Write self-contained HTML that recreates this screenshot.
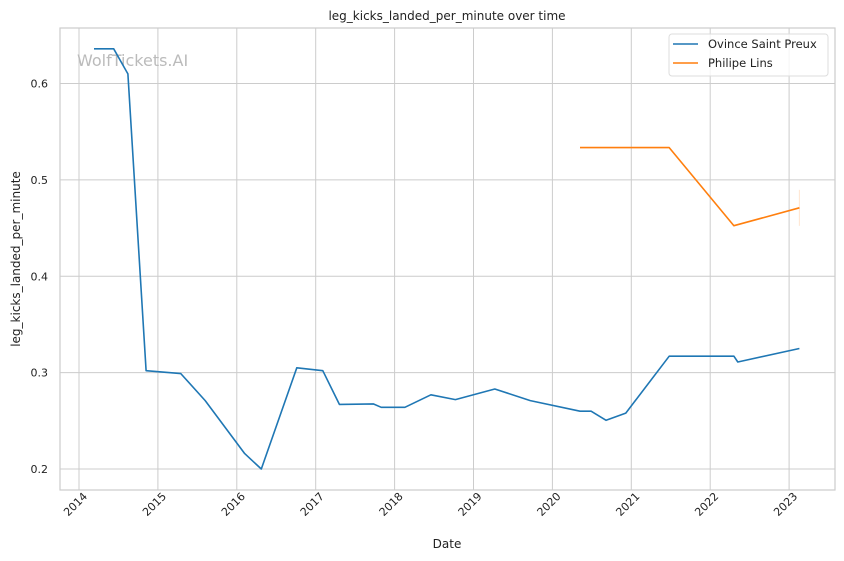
<!DOCTYPE html>
<html><head><meta charset="utf-8"><style>
body{margin:0;background:#fff;}
svg{display:block;font-family:"DejaVu Sans","Liberation Sans",sans-serif;}
</style></head><body>
<svg id="chart" width="844" height="561" viewBox="0 0 844 561">
<rect width="844" height="561" fill="#fff"/>
<g id="grid"></g>
<rect x="60" y="28" width="775" height="462" fill="none" stroke="#cccccc" stroke-width="1.2"/>
<text x="77" y="66" font-size="16" fill="#bbbbbb">WolfTickets.AI</text>
<g id="series"></g>
<g id="ticks"></g>
<text x="447" y="20" font-size="12" text-anchor="middle" fill="#222">leg_kicks_landed_per_minute over time</text>
<text x="447" y="548" font-size="12" text-anchor="middle" fill="#222">Date</text>
<text transform="translate(20,259) rotate(-90)" font-size="12" text-anchor="middle" fill="#222">leg_kicks_landed_per_minute</text>
<g>
<rect x="669" y="34" width="159" height="42" rx="3" fill="#fff" fill-opacity="0.8" stroke="#dddddd"/>
<line x1="673" y1="44" x2="698" y2="44" stroke="#1f77b4" stroke-width="1.6"/>
<text x="708" y="48" font-size="11.5" fill="#222">Ovince Saint Preux</text>
<line x1="673" y1="63" x2="698" y2="63" stroke="#ff7f0e" stroke-width="1.6"/>
<text x="708" y="67" font-size="11.5" fill="#222">Philipe Lins</text>
</g>
</svg>
<script>
const xTicks = [2014,2015,2016,2017,2018,2019,2020,2021,2022,2023];
const yTicks = [0.2,0.3,0.4,0.5,0.6];
const osp_dates = [2014.19,2014.44,2014.62,2014.85,2015.29,2015.60,2016.10,2016.31,2016.76,2017.09,2017.30,2017.73,2017.83,2018.13,2018.46,2018.77,2019.27,2019.72,2020.35,2020.49,2020.68,2020.93,2021.48,2022.30,2022.35,2023.13];
const osp_values = [0.636,0.636,0.610,0.302,0.299,0.271,0.216,0.200,0.305,0.302,0.267,0.2675,0.264,0.264,0.277,0.272,0.283,0.271,0.260,0.260,0.2505,0.258,0.317,0.317,0.311,0.325];
const lins_dates = [2020.35,2021.48,2022.30,2023.13];
const lins_values = [0.5335,0.5335,0.4525,0.471];
const NS="http://www.w3.org/2000/svg";
function xs(v){return 79+(v-2014)*78.9;}
function ys(v){return 469-(v-0.2)*963.75;}
function mk(tag,attrs,parent){const e=document.createElementNS(NS,tag);for(const k in attrs)e.setAttribute(k,attrs[k]);parent.appendChild(e);return e;}
const grid=document.getElementById('grid'),ticks=document.getElementById('ticks'),ser=document.getElementById('series');
xTicks.forEach(t=>{
  const l=mk('line',{x1:xs(t),x2:xs(t),y1:28,y2:490,stroke:'#cccccc','stroke-width':1},grid);
  
  
  const x=xs(t);
  const tx=mk('text',{transform:`translate(${x+9},${497}) rotate(-45)`,'font-size':11,'text-anchor':'end',fill:'#222'},ticks);
  tx.textContent=t;
  
  
});
yTicks.forEach(t=>{
  const l=mk('line',{x1:60,x2:835,y1:ys(t),y2:ys(t),stroke:'#cccccc','stroke-width':1},grid);
  
  
  const tx=mk('text',{x:48,y:ys(t)+4,'font-size':11,'text-anchor':'end',fill:'#222'},ticks);
  tx.textContent=t.toFixed(1);
  
  
});
function line(d,v,color,name){
  const pts=d.map((x,i)=>xs(x).toFixed(1)+','+ys(v[i]).toFixed(1)).join(' ');
  const p=mk('polyline',{points:pts,fill:'none',stroke:color,'stroke-width':1.6,'stroke-linejoin':'round'},ser);
  
  
}
line(osp_dates,osp_values,'#1f77b4','series-ovince-saint-preux');
line(lins_dates,lins_values,'#ff7f0e','series-philipe-lins');
const lastX=xs(lins_dates[lins_dates.length-1]),lastY=ys(lins_values[lins_values.length-1]);
const eb=mk('line',{x1:lastX,x2:lastX,y1:lastY-18,y2:lastY+18,stroke:'#ff7f0e','stroke-opacity':0.2,'stroke-width':1},ser);


</script>
</body></html>
